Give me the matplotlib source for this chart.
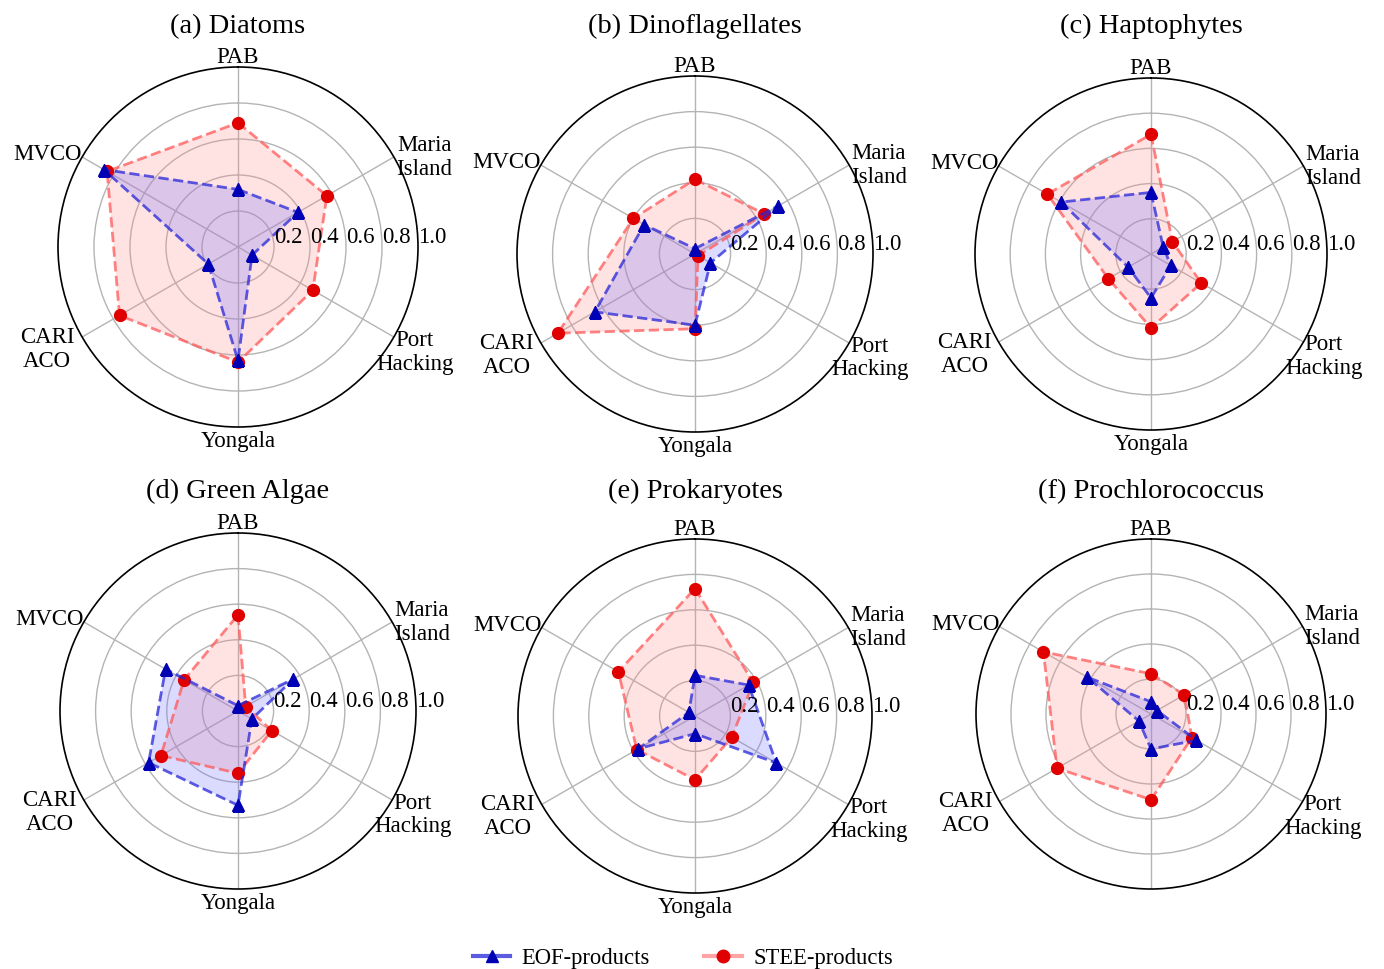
import numpy as np
import matplotlib
matplotlib.use("Agg")
import matplotlib.pyplot as plt
from matplotlib.lines import Line2D

plt.rcParams['font.family'] = ['Liberation Serif', 'DejaVu Serif']

# ---------------- data ----------------
categories = ['PAB', 'Maria\nIsland', 'Port\nHacking', 'Yongala', 'CARI\nACO', 'MVCO']
titles = ['(a) Diatoms', '(b) Dinoflagellates', '(c) Haptophytes',
          '(d) Green Algae', '(e) Prokaryotes', '(f) Prochlorococcus']
series_names = ['EOF-products', 'STEE-products']
r_ticks = [0.2, 0.4, 0.6, 0.8, 1.0]

eof_diatoms = [0.32, 0.385, 0.09, 0.63, 0.19, 0.86]
stee_diatoms = [0.69, 0.57, 0.48, 0.64, 0.76, 0.84]
eof_dino = [0.03, 0.54, 0.10, 0.40, 0.65, 0.33]
stee_dino = [0.42, 0.45, 0.02, 0.42, 0.89, 0.40]
eof_hapto = [0.35, 0.08, 0.13, 0.25, 0.15, 0.59]
stee_hapto = [0.68, 0.14, 0.33, 0.42, 0.28, 0.68]
eof_green = [0.03, 0.36, 0.09, 0.53, 0.58, 0.47]
stee_green = [0.54, 0.05, 0.22, 0.35, 0.50, 0.35]
eof_prok = [0.23, 0.35, 0.53, 0.10, 0.37, 0.04]
stee_prok = [0.72, 0.38, 0.24, 0.36, 0.38, 0.50]
eof_proch = [0.07, 0.04, 0.30, 0.20, 0.08, 0.42]
stee_proch = [0.23, 0.22, 0.27, 0.49, 0.62, 0.71]

eof_all = [eof_diatoms, eof_dino, eof_hapto, eof_green, eof_prok, eof_proch]
stee_all = [stee_diatoms, stee_dino, stee_hapto, stee_green, stee_prok, stee_proch]
hide_yongala = [False, False, False, False, False, True]

# ---------------- layout ----------------
W, H = 1384, 970
fig = plt.figure(figsize=(W / 100, H / 100), dpi=100)

centers = [(238, 248), (695, 255), (1151, 255), (238, 712), (695, 717), (1151, 715)]
radii = [180, 178, 176, 178, 177, 175]
title_y = [33, 33, 33, 498, 498, 498]

# label placement (angle clockwise from top in degrees, radius)
label_pos = [(0, 1.06), (64, 1.15), (120.5, 1.14), (180, 1.075), (242, 1.20), (296, 1.18)]

FS = 16.5

n = len(categories)
angles = np.arange(n) * 2 * np.pi / n
angles_closed = np.concatenate([angles, angles[:1]])

blue_line = (0.15, 0.15, 0.85, 0.75)
blue_mk = '#0000b4'
red_line = (1.0, 0.35, 0.35, 0.75)
red_mk = '#e00000'

for i in range(6):
    cx, cy = centers[i]
    R = radii[i]
    ax = fig.add_axes([(cx - R) / W, 1 - (cy + R) / H, 2 * R / W, 2 * R / H],
                      projection='polar')
    ax.set_theta_offset(np.pi / 2)
    ax.set_theta_direction(-1)
    ax.set_ylim(0, 1)

    stee = np.array(stee_all[i] + stee_all[i][:1])
    eof = np.array(eof_all[i] + eof_all[i][:1])

    ax.fill(angles_closed, stee, color=(1.0, 0.55, 0.55), alpha=0.25, lw=0, zorder=2)
    ax.fill(angles_closed, eof, color=(0.45, 0.45, 1.0), alpha=0.25, lw=0, zorder=2)
    ax.plot(angles_closed, stee, ls='--', lw=2, color=red_line, zorder=3)
    ax.plot(angles, stee[:-1], ls='none', marker='o', ms=8.5, color=red_mk, zorder=4)
    ax.plot(angles_closed, eof, ls='--', lw=2, color=blue_line, zorder=5)
    ax.plot(angles, eof[:-1], ls='none', marker='^', ms=8.5, color=blue_mk, zorder=6)

    ax.set_thetagrids(np.degrees(angles), labels=[''] * n)
    ax.set_rgrids(r_ticks[:-1], labels=[''] * (len(r_ticks) - 1))
    ax.grid(True, color='#b4b4b4', lw=1.0)
    ax.spines['polar'].set_color('black')
    ax.spines['polar'].set_linewidth(1.2)
    ax.tick_params(length=0)

    for rt in r_ticks:
        ax.text(np.pi / 2, rt, f'{rt:.1f}', ha='left', va='bottom', fontsize=FS,
                zorder=7, clip_on=False)

    for k, cat in enumerate(categories):
        if cat == 'Yongala' and hide_yongala[i]:
            continue
        ang, rr = label_pos[k]
        ax.text(np.radians(ang), rr, cat, ha='center', va='center',
                multialignment='center', fontsize=FS, linespacing=1.18,
                clip_on=False)

    fig.text(cx / W, 1 - title_y[i] / H, titles[i], ha='center', va='baseline',
             fontsize=20.5)

handles = [
    Line2D([], [], color=blue_line, lw=3, marker='^', ms=9,
           markerfacecolor=blue_mk, markeredgecolor=blue_mk),
    Line2D([], [], color=(1.0, 0.55, 0.55, 0.8), lw=3, marker='o', ms=9,
           markerfacecolor=red_mk, markeredgecolor=red_mk),
]
fig.legend(handles, series_names, loc='center', bbox_to_anchor=(683 / W, 1 - 959 / H),
           ncol=2, frameon=False, fontsize=16.3, columnspacing=2.4,
           handlelength=1.65, handletextpad=0.5)

fig.savefig('out.png', dpi=100)
